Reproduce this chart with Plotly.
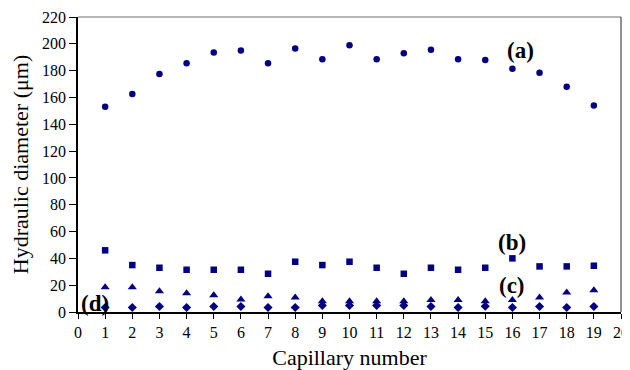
import plotly.graph_objects as go

capillary = list(range(1, 20))
series_a = [153, 162.5, 177.5, 185.5, 193.5, 195, 185.5, 196.5, 188.5, 199,
            188.5, 193, 195.5, 188.5, 188, 181.5, 178.5, 168, 154]
series_b = [46, 35, 33, 31.5, 31.5, 31.5, 28.5, 37.5, 35, 37.5,
            33, 28.5, 33, 31.5, 33, 40, 34, 34, 34.5]
series_c = [18.5, 18.5, 15.5, 14, 12.5, 9.3, 11.8, 10.8, 8, 8,
            8, 8, 9, 9, 8, 9, 10.8, 14.5, 16.3]
series_d = [3.4, 3.4, 4.1, 3.4, 4.1, 4.1, 3.4, 3.4, 4.8, 4.8,
            4.8, 4.8, 4.1, 3.4, 4.3, 3.4, 4.1, 3.4, 4.1]

x_ticks = list(range(0, 21))
y_ticks = list(range(0, 221, 20))

labels = ["(a)", "(b)", "(c)", "(d)"]
label_x = [16.3, 16.0, 16.0, 0.62]
label_y = [195, 52, 20, 6]

NAVY = "#000080"
FONT = "Liberation Serif, serif"

fig = go.Figure()
for ys, sym, size in [(series_a, "circle", 6.5), (series_b, "square", 6.5),
                      (series_c, "triangle-up", 8), (series_d, "diamond", 7)]:
    fig.add_trace(go.Scatter(x=capillary, y=ys, mode="markers",
                             marker=dict(symbol=sym, size=size, color=NAVY,
                                         line=dict(width=0)),
                             showlegend=False, cliponaxis=False))

for t, lx, ly in zip(labels, label_x, label_y):
    fig.add_annotation(x=lx, y=ly, text="<b>" + t + "</b>", showarrow=False,
                       font=dict(family=FONT, size=23, color="black"))

# plot-area frame: grey top, dark right
fig.add_shape(type="line", xref="paper", yref="paper", x0=0, y0=1, x1=1, y1=1,
              line=dict(color="#6e6e6e", width=1))
fig.add_shape(type="line", xref="paper", yref="paper", x0=1, y0=0, x1=1, y1=1,
              line=dict(color="#222222", width=1))

fig.update_layout(
    template="none",
    width=622, height=362,
    margin=dict(l=70, r=9, t=9, b=58, autoexpand=False),
    plot_bgcolor="white", paper_bgcolor="white",
    font=dict(family=FONT, size=16, color="black"),
    xaxis=dict(range=[0, 20], tickvals=x_ticks, showgrid=False, zeroline=False,
               showline=True, linecolor="black", linewidth=1.5,
               ticks="outside", ticklen=5, tickcolor="black", tickwidth=1,
               title=dict(text="Capillary number",
                          font=dict(family=FONT, size=22, color="black"), standoff=10),
               tickfont=dict(family=FONT, size=16, color="black"), automargin=False),
    yaxis=dict(range=[0, 220], tickvals=y_ticks, showgrid=False, zeroline=False,
               showline=True, linecolor="black", linewidth=1.5,
               ticks="outside", ticklen=7, tickcolor="black", tickwidth=1,
               title=dict(text="Hydraulic diameter (μm)",
                          font=dict(family=FONT, size=22, color="black"), standoff=10),
               tickfont=dict(family=FONT, size=16, color="black"), automargin=False),
)

fig.write_html("out.html")
